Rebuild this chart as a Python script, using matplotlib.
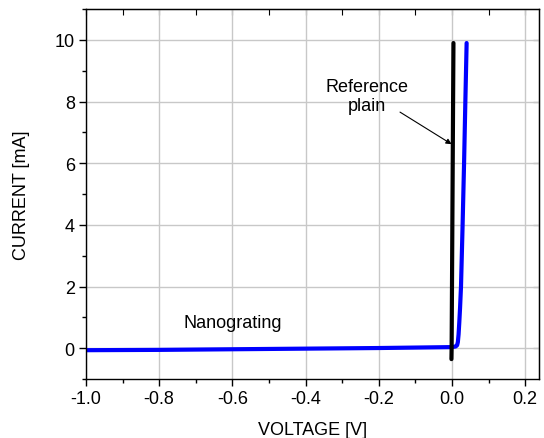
import numpy as np
import matplotlib
matplotlib.use("Agg")
import matplotlib.pyplot as plt
from matplotlib.ticker import MultipleLocator

plt.rcParams["font.family"] = ["Liberation Sans", "DejaVu Sans"]
plt.rcParams["font.size"] = 13

# nanograting I-V (V, mA)
nano_v = [-1.0, -0.8, -0.6, -0.4, -0.2, 0.0, 0.010, 0.014, 0.016, 0.018,
          0.020, 0.022, 0.0246, 0.029, 0.033, 0.0365, 0.040]
nano_i = [-0.06, -0.05, -0.03, -0.01, 0.01, 0.04, 0.06, 0.10, 0.20, 0.45,
          0.85, 1.3, 2.0, 4.0, 6.0, 8.0, 9.9]

# reference plain I-V
ref_v = [-0.0015, -0.001, 0.0, 0.001, 0.002, 0.003, 0.004]
ref_i = [-0.35, 0.0, 2.0, 4.0, 6.0, 8.0, 9.9]

fig = plt.figure(figsize=(5.44, 4.39), dpi=100)
ax = fig.add_axes([0.158, 0.134, 0.833, 0.843])

ax.grid(True, which="major", color="#c8c8c8", lw=1.0)
ax.set_axisbelow(True)

ax.plot(nano_v, nano_i, color="#0000ff", lw=3, solid_capstyle="round")
ax.plot(ref_v, ref_i, color="black", lw=3, solid_capstyle="round")

ax.set_xlim(-1.0, 0.238)
ax.set_ylim(-1.0, 11.0)
ax.xaxis.set_major_locator(MultipleLocator(0.2))
ax.xaxis.set_minor_locator(MultipleLocator(0.1))
ax.yaxis.set_major_locator(MultipleLocator(2))
ax.yaxis.set_minor_locator(MultipleLocator(1))
ax.xaxis.set_major_formatter(plt.FuncFormatter(lambda v, p: f"{v:.1f}".replace("-0.0", "0.0")))

ax.tick_params(which="major", direction="out", length=5, width=1, pad=3)
ax.tick_params(which="minor", direction="out", length=3, width=1)
for s in ax.spines.values():
    s.set_linewidth(1)

top = ax.secondary_xaxis("top")
top.xaxis.set_major_locator(MultipleLocator(0.1))
top.tick_params(direction="in", length=4, labeltop=False)
right = ax.secondary_yaxis("right")
right.yaxis.set_major_locator(MultipleLocator(2))
right.tick_params(direction="in", length=4, labelright=False)

ax.set_xlabel("VOLTAGE [V]", labelpad=10)
ax.set_ylabel("CURRENT [mA]", labelpad=18)

ax.text(-0.60, 0.84, "Nanograting", ha="center", va="center")
ax.text(-0.232, 8.18, "Reference\nplain", ha="center", va="center",
        linespacing=1.15)
ax.annotate("", xy=(-0.001, 6.62), xytext=(-0.142, 7.66),
            arrowprops=dict(arrowstyle="-|>", color="black", lw=0.8,
                            shrinkA=0, shrinkB=0, mutation_scale=8))

fig.savefig("out.png", dpi=100)
